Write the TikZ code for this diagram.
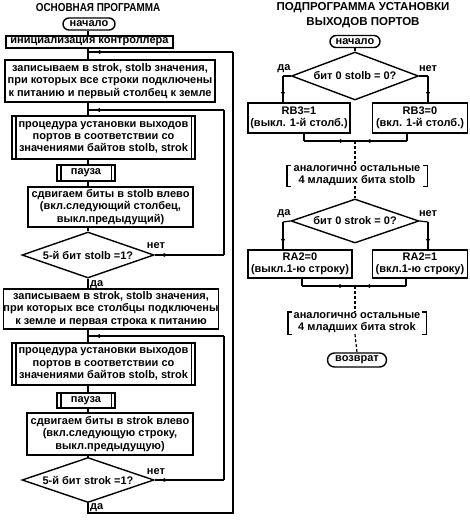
\documentclass[tikz,border=0pt]{standalone}
\usepackage{fontspec}
\setmainfont{Liberation Sans}
\usetikzlibrary{shapes.geometric,arrows.meta,decorations.markings}
\begin{document}
\begin{tikzpicture}[x=1pt,y=-1pt,
  every node/.style={font=\bfseries\fontsize{11}{12.2}\selectfont, inner sep=0pt},
  box/.style={draw, line width=1.4pt, align=center, rectangle},
  term/.style={draw, line width=1.4pt, rounded corners=6pt},
  dec/.style={draw, diamond, line width=1.4pt, aspect=2.8},
  conn/.style={line width=1.2pt},
  dashconn/.style={line width=1.2pt, dash pattern=on 3pt off 2pt},
  brk/.style={line width=1.4pt},
  arrowat/.style={postaction={decorate}, decoration={markings, mark=at position #1 with {\arrow{Latex[length=5pt,width=4.5pt]}}}},
  titlef/.style={font=\bfseries\fontsize{11.5}{15}\selectfont, align=center}
]
\fill[white] (0,0) rectangle (470,520);
\useasboundingbox (0,0) rectangle (470,520);

% ---------- left: main program ----------
\coordinate (ax) at (88,0);
\node[titlef] (tL) at (98,8) {\scalebox{0.86}[1]{ОСНОВНАЯ ПРОГРАММА}};
\node[term, minimum width=52pt, minimum height=12pt] (sL) at (89,24) {начало};
\node[box, minimum width=167pt, minimum height=12pt] (init) at (89.5,42) {инициализация контроллера};
\node[box, minimum width=210pt, minimum height=42pt] (w1) at (110,81) {записываем в strok, stolb значения,\\при которых все строки подключены\\к питанию и первый столбец к земле};
\node[box, minimum width=183pt, minimum height=43pt] (p1) at (103.5,137.5) {процедура установки выходов\\портов в соответствии со\\значениями байтов stolb, strok};
\node[box, minimum width=58pt, minimum height=16pt] (pz1) at (86,173) {пауза};
\node[box, minimum width=165pt, minimum height=40pt] (s1) at (110.5,207) {сдвигаем биты в stolb влево\\(вкл.следующий столбец,\\выкл.предыдущий)};
\node[dec, minimum width=132pt, minimum height=46pt] (d1) at (88,255) {5-й бит stolb =1?};
\node[box, minimum width=212pt, minimum height=40pt] (w2) at (111,309) {записываем в strok, stolb значения,\\при которых все столбцы подключены\\к земле и первая строка к питанию};
\node[box, minimum width=183pt, minimum height=42pt] (p2) at (103.5,364) {процедура установки выходов\\портов в соответствии со\\значениями байтов stolb, strok};
\node[box, minimum width=58pt, minimum height=15pt] (pz2) at (86,400.5) {пауза};
\node[box, minimum width=166pt, minimum height=42pt] (s2) at (110,434) {сдвигаем биты в strok влево\\(вкл.следующую строку,\\выкл.предыдущую)};
\node[dec, minimum width=132pt, minimum height=45pt] (d2) at (88,480) {5-й бит strok =1?};

% predefined-process inner lines
\foreach \n in {p1,p2,pz1,pz2}{
  \draw[brk] ([xshift=4.5pt]\n.north west) -- ([xshift=4.5pt]\n.south west);
  \draw[brk] ([xshift=-4.5pt]\n.north east) -- ([xshift=-4.5pt]\n.south east);
}

% main flow
\draw[conn] (ax |- sL.south) -- (ax |- init.north);
\draw[conn] (ax |- init.south) -- (ax |- w1.north);
\draw[conn] (ax |- w1.south) -- (ax |- p1.north);
\draw[conn] (ax |- p1.south) -- (ax |- pz1.north);
\draw[conn] (ax |- pz1.south) -- (ax |- s1.north);
\draw[conn] (ax |- s1.south) -- (d1.north);
\draw[conn] (d1.south) -- (ax |- w2.north);
\draw[conn] (ax |- w2.south) -- (ax |- p2.north);
\draw[conn] (ax |- p2.south) -- (ax |- pz2.north);
\draw[conn] (ax |- pz2.south) -- (ax |- s2.north);
\draw[conn] (ax |- s2.south) -- (d2.north);

% loops
\coordinate (j1) at (88,52);
\coordinate (j2) at (88,110);
\coordinate (j3) at (88,336);
\coordinate (b1) at (88,513);
\coordinate (o1) at (233,513);
\coordinate (o2) at (233,52);
\coordinate (i1a) at (224,255);
\coordinate (i1b) at (224,110);
\coordinate (i2a) at (224,480);
\coordinate (i2b) at (224,336);

\draw[conn] (d2.south) -- (b1) -- (o1) -- (o2);
\draw[conn, arrowat=0.95] (o2) -- (j1);
\draw[conn, arrowat=0.2] (d1.east) -- (i1a);
\draw[conn] (i1a) -- (i1b);
\draw[conn, arrowat=0.95] (i1b) -- (j2);
\draw[conn, arrowat=0.2] (d2.east) -- (i2a);
\draw[conn] (i2a) -- (i2b);
\draw[conn, arrowat=0.95] (i2b) -- (j3);

\node (n1) at (156,246) {нет};
\node[anchor=west] (y1) at (90,284.5) {да};
\node (n2) at (156,472) {нет};
\node[anchor=west] (y2) at (90,508) {да};

% ---------- right: subroutine ----------
\node[titlef] (tR) at (363,15.5) {ПОДПРОГРАММА УСТАНОВКИ\\ВЫХОДОВ ПОРТОВ};
\node[term, minimum width=50pt, minimum height=12pt] (sR) at (355,41.5) {начало};
\node[dec, minimum width=127pt, minimum height=48pt] (dA) at (355,76) {бит 0 stolb = 0?};
\draw[conn] (sR) -- (dA);
\node[box, minimum width=102pt, minimum height=30pt] (rb1) at (299,118) {RB3=1\\(выкл. 1-й столб.)};
\node[box, minimum width=95pt, minimum height=30pt] (rb0) at (420,118) {RB3=0\\(вкл. 1-й столб.)};
\coordinate (aL) at (283,76);
\coordinate (aR) at (428,76);
\draw[conn] (dA.west) -- (aL);
\draw[conn, arrowat=0.8] (aL) -- (aL |- rb1.north);
\draw[conn] (dA.east) -- (aR);
\draw[conn, arrowat=0.8] (aR) -- (aR |- rb0.north);
\node (yA) at (284,69) {да};
\node (nA) at (428,69) {нет};

\coordinate (jA) at (355,141);
\coordinate (jAl) at (304,141);
\coordinate (jAr) at (407,141);
\draw[conn] (jAl |- rb1.south) -- (jAl);
\draw[conn, arrowat=0.8] (jAl) -- (jA);
\draw[conn] (jAr |- rb0.south) -- (jAr);
\draw[conn, arrowat=0.8] (jAr) -- (jA);

\node[align=center, minimum width=140pt, minimum height=20pt] (bA) at (357,176) {аналогично остальные\\4 младших бита stolb};
\node[dec, minimum width=128pt, minimum height=44pt] (dB) at (355,221) {бит 0 strok = 0?};
\draw[dashconn] (jA) -- (jA |- bA.north);
\draw[dashconn] (jA |- bA.south) -- (dB.north);

\node[box, minimum width=104pt, minimum height=28pt] (ra0) at (300,264) {RA2=0\\(выкл.1-ю строку)};
\node[box, minimum width=95pt, minimum height=28pt] (ra1) at (420,264) {RA2=1\\(вкл.1-ю строку)};
\coordinate (bL) at (283,222);
\coordinate (bR) at (428,222);
\draw[conn] (dB.west) -- (bL);
\draw[conn, arrowat=0.8] (bL) -- (bL |- ra0.north);
\draw[conn] (dB.east) -- (bR);
\draw[conn, arrowat=0.8] (bR) -- (bR |- ra1.north);
\node (yB) at (284,214) {да};
\node (nB) at (428,214) {нет};

\coordinate (jB) at (355,286);
\coordinate (jBl) at (302,286);
\coordinate (jBr) at (406,286);
\draw[conn] (jBl |- ra0.south) -- (jBl);
\draw[conn, arrowat=0.8] (jBl) -- (jB);
\draw[conn] (jBr |- ra1.south) -- (jBr);
\draw[conn, arrowat=0.8] (jBr) -- (jB);

\node[align=center, minimum width=138pt, minimum height=22pt] (bB) at (357,323) {аналогично остальные\\4 младших бита strok};
\node[term, minimum width=59pt, minimum height=14pt, rounded corners=7pt] (ret) at (357,360) {возврат};
\draw[dashconn] (jB) -- (jB |- bB.north);
\draw[dashconn] (jB |- bB.south) -- (ret.north);

% brackets
\foreach \n in {bA,bB}{
  \draw[brk] ([xshift=4pt]\n.north west) -- (\n.north west) -- (\n.south west) -- ([xshift=4pt]\n.south west);
  \draw[brk] ([xshift=-4pt]\n.north east) -- (\n.north east) -- (\n.south east) -- ([xshift=-4pt]\n.south east);
}
\end{tikzpicture}
\end{document}
